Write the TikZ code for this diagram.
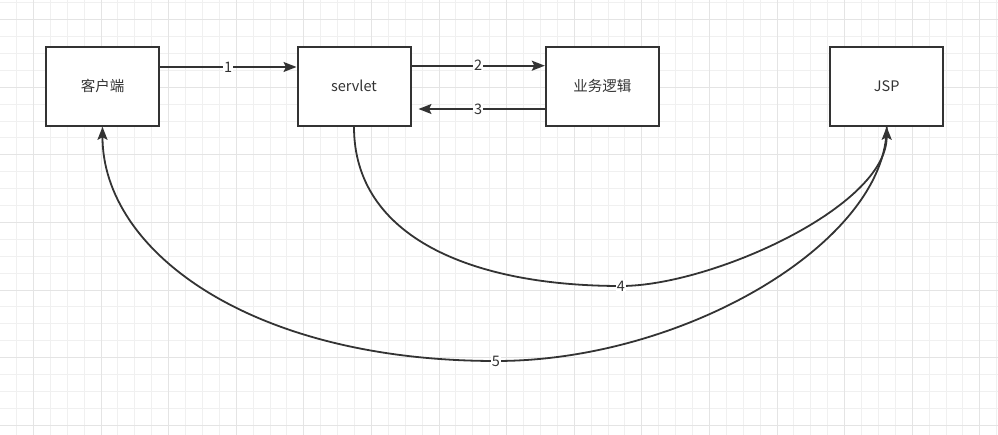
\documentclass[tikz,border=0pt]{standalone}
\usepackage{fontspec}
\setmainfont{Noto Sans CJK SC}
\usepackage{tikz}
\usepackage{xcolor}
\usetikzlibrary{arrows.meta,positioning,calc}
\definecolor{ink}{HTML}{333333}
\definecolor{gridlo}{HTML}{F0F0F0}
\definecolor{gridhi}{HTML}{E4E4E4}
\tikzset{
  boxnode/.style={draw=ink,fill=white,line width=2pt,minimum width=113pt,
                  minimum height=79pt,inner sep=0pt,text=ink,font=\fontsize{14.5}{16}\selectfont},
  flowarr/.style={-{Stealth[length=13pt,width=10pt,inset=2.5pt]},line width=1.8pt,draw=ink},
  numlbl/.style={fill=white,inner sep=1pt,text=ink,font=\fontsize{14.5}{16}\selectfont},
  gridminor/.style={draw=gridlo,line width=1pt},
  gridmajor/.style={draw=gridhi,line width=1pt}
}
\begin{document}
\begin{tikzpicture}[x=1pt,y=-1pt]
    \path[use as bounding box,fill=white] (0,0) rectangle (998,435);
    % background grid
    \foreach \i in {0,...,58} {
      \pgfmathsetmacro\gx{round(16.1+16.9*\i)+0.5}
      \draw[gridminor] (\gx,0) -- (\gx,435);
    }
    \foreach \i in {0,...,25} {
      \pgfmathsetmacro\gy{round(2.3+16.9*\i)+0.5}
      \draw[gridminor] (0,\gy) -- (998,\gy);
    }
    \foreach \i in {0,...,14} {
      \pgfmathsetmacro\gx{round(33+67.6*\i)+0.5}
      \draw[gridmajor] (\gx,0) -- (\gx,435);
    }
    \foreach \i in {0,...,6} {
      \pgfmathsetmacro\gy{round(19.2+67.6*\i)+0.5}
      \draw[gridmajor] (0,\gy) -- (998,\gy);
    }
    % boxes
    \node[boxnode] (client) at (102.5,86.3) {客户端};
    \node[boxnode] (servlet) at (354,86.3) {servlet};
    \node[boxnode] (logic) at (602.3,86.3) {业务逻辑};
    \node[boxnode] (jsp) at (886.7,86.3) {JSP};
    \coordinate (m4) at (621,286);
    \coordinate (m5) at (496,361);
    % straight arrows
    \draw[flowarr] ([yshift=19.3pt]client.east) -- node[numlbl] {1} ([yshift=19.3pt]servlet.west);
    \draw[flowarr] ([yshift=20.6pt]servlet.east) -- node[numlbl] {2} ([yshift=20.6pt]logic.west);
    \draw[flowarr,shorten >=7pt] ([yshift=-22.7pt]logic.west) -- node[numlbl] {3} ([yshift=-22.7pt]servlet.east);
    % curved arrows
    \draw[flowarr] (servlet.south) .. controls +(0,110) and +(-150,0) .. (m4)
      .. controls +(90,0) and +(0,80) .. (jsp.south);
    \draw[flowarr] (jsp.south) .. controls +(0,114) and +(190,0) .. (m5)
      .. controls +(-246,0) and +(0,124) .. (client.south);
    \node[numlbl] (n4) at (m4) {4};
    \node[numlbl] (n5) at (m5) {5};
\end{tikzpicture}
\end{document}
